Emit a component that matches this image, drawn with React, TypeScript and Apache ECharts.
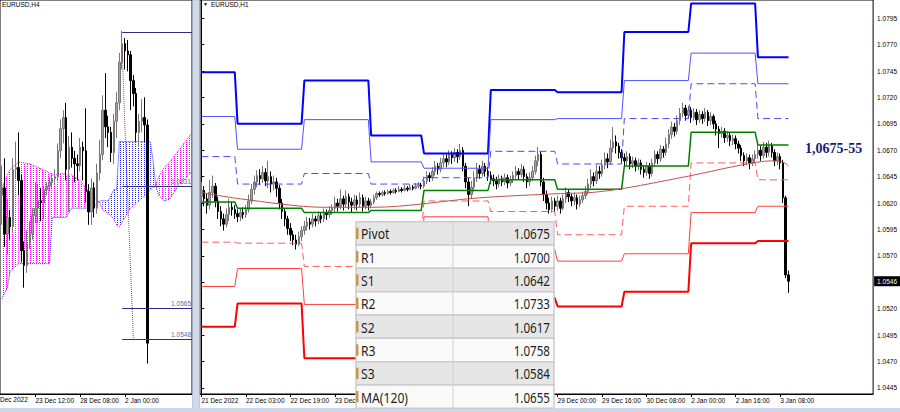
import React, { useEffect, useRef } from 'react';
import * as echarts from 'echarts';

// ---------- DATA ----------
// H1 bars (right panel), index 0 = 21 Dec 2022 11:00 : [open, close, low, high]
const h1Bars: number[][] = [
  [1.0626,1.0632,1.0620,1.0640],[1.0632,1.0624,1.0617,1.0636],[1.0624,1.0618,1.0610,1.0629],[1.0618,1.0630,1.0614,1.0642],
  [1.0630,1.0636,1.0625,1.0646],[1.0636,1.0622,1.0616,1.0639],[1.0622,1.0612,1.0605,1.0626],[1.0612,1.0605,1.0598,1.0617],
  [1.0605,1.0600,1.0594,1.0610],[1.0600,1.0609,1.0597,1.0615],[1.0609,1.0616,1.0603,1.0624],[1.0616,1.0614,1.0608,1.0621],
  [1.0614,1.0610,1.0605,1.0618],[1.0610,1.0607,1.0602,1.0614],[1.0607,1.0611,1.0603,1.0615],[1.0611,1.0609,1.0605,1.0616],
  [1.0609,1.0614,1.0606,1.0618],[1.0614,1.0622,1.0611,1.0628],[1.0622,1.0633,1.0619,1.0638],[1.0633,1.0640,1.0628,1.0646],
  [1.0640,1.0646,1.0635,1.0651],[1.0646,1.0643,1.0637,1.0652],[1.0643,1.0649,1.0639,1.0655],[1.0649,1.0641,1.0636,1.0653],
  [1.0641,1.0645,1.0634,1.0660],[1.0645,1.0638,1.0630,1.0650],[1.0638,1.0640,1.0632,1.0646],[1.0640,1.0634,1.0626,1.0644],
  [1.0634,1.0620,1.0614,1.0637],[1.0620,1.0612,1.0605,1.0624],[1.0612,1.0605,1.0598,1.0615],[1.0605,1.0596,1.0590,1.0608],
  [1.0596,1.0590,1.0584,1.0601],[1.0590,1.0585,1.0580,1.0594],[1.0585,1.0581,1.0576,1.0590],[1.0581,1.0588,1.0579,1.0593],
  [1.0588,1.0594,1.0584,1.0598],[1.0594,1.0598,1.0590,1.0603],[1.0598,1.0602,1.0594,1.0607],[1.0602,1.0600,1.0595,1.0606],
  [1.0600,1.0605,1.0597,1.0610],[1.0605,1.0603,1.0598,1.0608],[1.0603,1.0608,1.0600,1.0612],[1.0608,1.0605,1.0601,1.0611],
  [1.0605,1.0611,1.0602,1.0615],[1.0611,1.0609,1.0604,1.0614],[1.0609,1.0613,1.0606,1.0617],[1.0613,1.0615,1.0609,1.0619],
  [1.0615,1.0620,1.0611,1.0626],[1.0620,1.0617,1.0612,1.0624],[1.0617,1.0624,1.0614,1.0633],[1.0624,1.0619,1.0613,1.0627],
  [1.0619,1.0626,1.0616,1.0632],[1.0626,1.0621,1.0614,1.0629],[1.0621,1.0618,1.0611,1.0625],[1.0618,1.0623,1.0614,1.0628],
  [1.0623,1.0619,1.0613,1.0627],[1.0619,1.0625,1.0616,1.0630],[1.0625,1.0617,1.0612,1.0628],[1.0617,1.0622,1.0614,1.0626],
  [1.0622,1.0618,1.0613,1.0625],[1.0618,1.0621,1.0615,1.0624],[1.0621,1.0625,1.0619,1.0628],[1.0625,1.0629,1.0623,1.0631],
  [1.0629,1.0628,1.0626,1.0631],[1.0628,1.0630,1.0626,1.0632],[1.0630,1.0629,1.0627,1.0632],[1.0629,1.0631,1.0628,1.0633],
  [1.0631,1.0630,1.0628,1.0633],[1.0630,1.0632,1.0629,1.0634],[1.0632,1.0631,1.0629,1.0634],[1.0631,1.0633,1.0630,1.0636],
  [1.0633,1.0632,1.0630,1.0635],[1.0632,1.0634,1.0631,1.0637],[1.0634,1.0633,1.0631,1.0636],[1.0633,1.0635,1.0632,1.0638],
  [1.0635,1.0634,1.0632,1.0637],[1.0634,1.0636,1.0633,1.0639],[1.0636,1.0637,1.0634,1.0640],[1.0637,1.0636,1.0633,1.0639],
  [1.0636,1.0641,1.0634,1.0645],[1.0641,1.0646,1.0638,1.0650],[1.0646,1.0644,1.0640,1.0649],[1.0644,1.0650,1.0641,1.0654],
  [1.0650,1.0655,1.0646,1.0660],[1.0655,1.0652,1.0647,1.0658],[1.0652,1.0658,1.0649,1.0663],[1.0658,1.0662,1.0654,1.0667],
  [1.0662,1.0659,1.0654,1.0666],[1.0659,1.0666,1.0656,1.0670],[1.0666,1.0663,1.0657,1.0669],[1.0663,1.0668,1.0659,1.0672],
  [1.0668,1.0664,1.0658,1.0671],[1.0664,1.0670,1.0661,1.0676],[1.0670,1.0655,1.0650,1.0673],[1.0655,1.0640,1.0634,1.0658],
  [1.0640,1.0628,1.0617,1.0644],[1.0628,1.0635,1.0624,1.0641],[1.0635,1.0644,1.0631,1.0650],[1.0644,1.0652,1.0640,1.0658],
  [1.0652,1.0648,1.0643,1.0656],[1.0648,1.0655,1.0645,1.0660],[1.0655,1.0650,1.0645,1.0658],[1.0650,1.0646,1.0641,1.0654],
  [1.0646,1.0643,1.0638,1.0650],[1.0643,1.0641,1.0636,1.0647],[1.0641,1.0638,1.0633,1.0645],[1.0638,1.0643,1.0635,1.0647],
  [1.0643,1.0640,1.0636,1.0646],[1.0640,1.0644,1.0637,1.0648],[1.0644,1.0639,1.0634,1.0647],[1.0639,1.0642,1.0636,1.0646],
  [1.0642,1.0646,1.0639,1.0650],[1.0646,1.0650,1.0643,1.0655],[1.0650,1.0647,1.0642,1.0653],[1.0647,1.0652,1.0644,1.0657],
  [1.0652,1.0645,1.0640,1.0655],[1.0645,1.0640,1.0634,1.0648],[1.0640,1.0644,1.0636,1.0649],[1.0644,1.0650,1.0641,1.0655],
  [1.0650,1.0660,1.0647,1.0665],[1.0660,1.0666,1.0655,1.0673],[1.0666,1.0640,1.0636,1.0669],[1.0640,1.0628,1.0622,1.0644],
  [1.0628,1.0620,1.0614,1.0632],[1.0620,1.0614,1.0610,1.0625],[1.0614,1.0622,1.0611,1.0626],[1.0622,1.0617,1.0612,1.0625],
  [1.0617,1.0622,1.0613,1.0627],[1.0622,1.0615,1.0610,1.0625],[1.0615,1.0624,1.0613,1.0628],[1.0624,1.0630,1.0620,1.0635],
  [1.0630,1.0626,1.0621,1.0633],[1.0626,1.0622,1.0617,1.0629],[1.0622,1.0625,1.0618,1.0630],[1.0625,1.0619,1.0614,1.0628],
  [1.0619,1.0623,1.0616,1.0627],[1.0623,1.0627,1.0620,1.0631],[1.0627,1.0631,1.0624,1.0636],[1.0631,1.0638,1.0628,1.0643],
  [1.0638,1.0645,1.0634,1.0652],[1.0645,1.0641,1.0636,1.0649],[1.0641,1.0650,1.0638,1.0656],[1.0650,1.0648,1.0643,1.0655],
  [1.0648,1.0656,1.0645,1.0661],[1.0656,1.0662,1.0652,1.0668],[1.0662,1.0659,1.0653,1.0667],[1.0659,1.0672,1.0656,1.0680],
  [1.0672,1.0678,1.0668,1.0692],[1.0678,1.0674,1.0667,1.0684],[1.0674,1.0668,1.0662,1.0677],[1.0668,1.0663,1.0657,1.0671],
  [1.0663,1.0660,1.0654,1.0667],[1.0660,1.0664,1.0656,1.0669],[1.0664,1.0657,1.0652,1.0667],[1.0657,1.0660,1.0653,1.0664],
  [1.0660,1.0655,1.0650,1.0663],[1.0655,1.0658,1.0651,1.0662],[1.0658,1.0652,1.0647,1.0661],[1.0652,1.0649,1.0644,1.0656],
  [1.0649,1.0655,1.0646,1.0659],[1.0655,1.0648,1.0643,1.0658],[1.0648,1.0658,1.0645,1.0662],[1.0658,1.0666,1.0654,1.0670],
  [1.0666,1.0662,1.0657,1.0669],[1.0662,1.0671,1.0659,1.0675],[1.0671,1.0668,1.0663,1.0674],[1.0668,1.0676,1.0665,1.0682],
  [1.0676,1.0685,1.0672,1.0690],[1.0685,1.0692,1.0681,1.0697],[1.0692,1.0688,1.0683,1.0696],[1.0688,1.0698,1.0685,1.0703],
  [1.0698,1.0705,1.0694,1.0710],[1.0705,1.0710,1.0701,1.0715],[1.0710,1.0703,1.0698,1.0713],[1.0703,1.0708,1.0700,1.0712],
  [1.0708,1.0701,1.0696,1.0711],[1.0701,1.0706,1.0698,1.0710],[1.0706,1.0699,1.0694,1.0709],[1.0699,1.0704,1.0696,1.0708],
  [1.0704,1.0700,1.0695,1.0707],[1.0700,1.0706,1.0697,1.0710],[1.0706,1.0698,1.0693,1.0708],[1.0698,1.0702,1.0694,1.0706],
  [1.0702,1.0695,1.0690,1.0704],[1.0695,1.0690,1.0684,1.0698],[1.0690,1.0686,1.0672,1.0693],[1.0686,1.0688,1.0682,1.0692],
  [1.0688,1.0682,1.0677,1.0691],[1.0682,1.0684,1.0678,1.0688],[1.0684,1.0679,1.0674,1.0687],[1.0679,1.0681,1.0675,1.0685],
  [1.0681,1.0676,1.0671,1.0684],[1.0676,1.0672,1.0667,1.0679],[1.0672,1.0665,1.0660,1.0675],[1.0665,1.0660,1.0655,1.0668],
  [1.0660,1.0663,1.0656,1.0667],[1.0663,1.0658,1.0652,1.0666],[1.0658,1.0662,1.0655,1.0666],[1.0662,1.0666,1.0658,1.0670],
  [1.0666,1.0670,1.0662,1.0676],[1.0670,1.0665,1.0660,1.0674],[1.0665,1.0673,1.0662,1.0678],[1.0673,1.0668,1.0663,1.0677],
  [1.0668,1.0674,1.0664,1.0679],[1.0674,1.0668,1.0663,1.0677],[1.0668,1.0660,1.0655,1.0671],[1.0660,1.0664,1.0656,1.0668],
  [1.0664,1.0658,1.0652,1.0667],[1.0658,1.0625,1.0620,1.0661],[1.0625,1.0552,1.0549,1.0627],[1.0552,1.0546,1.0535,1.0556],
];

// daily pivot segments (first H1 bar index of each day)
const segStarts = [0, 13, 37, 61, 80, 104, 128, 152, 176, 200];
const lastBar = 211;
const levelR3 = [1.0744, 1.0695, 1.0736, 1.0684, 1.0667, 1.0727, 1.0725, 1.0782, 1.0809, 1.0758];
const levelR2 = [1.0702, 1.0671, 1.0699, 1.0659, 1.0653, 1.0699, 1.0700, 1.0736, 1.0762, 1.0733];
const levelR1 = [1.0664, 1.0638, 1.0648, 1.0638, 1.0644, 1.0669, 1.0657, 1.0700, 1.0733, 1.0700];
const levelP = [1.0621, 1.0615, 1.0611, 1.0613, 1.0632, 1.0642, 1.0633, 1.0655, 1.0687, 1.0675];
const levelS1 = [1.0583, 1.0582, 1.0560, 1.0589, 1.0622, 1.0612, 1.0590, 1.0617, 1.0658, 1.0642];
const levelS2 = [1.0541, 1.0558, 1.0524, 1.0568, 1.0607, 1.0576, 1.0565, 1.0572, 1.0611, 1.0617];
const levelS3 = [1.0503, 1.0525, 1.0473, 1.0543, 1.0593, 1.0530, 1.0522, 1.0536, 1.0582, 1.0584];

// MA(120) key points [bar index, value]
const maBars = [0, 14, 44, 62, 100, 129, 140, 152, 176, 194, 205, 209, 211];
const maValues = [1.0630, 1.0624, 1.0616, 1.0616, 1.0625, 1.0629, 1.0630, 1.0634, 1.0646, 1.0656, 1.0660, 1.0659, 1.0655];

const lastPrice = 1.0546;

const rightTimeTicks = [0, 16, 32, 48, 64, 80, 96, 112, 128, 144, 160, 176, 192, 208];
const rightTimeLabels = ['21 Dec 2022', '22 Dec 03:00', '22 Dec 19:00', '23 Dec 11:00', '26 Dec 08:00', '27 Dec 00:00',
  '27 Dec 16:00', '28 Dec 08:00', '29 Dec 00:00', '29 Dec 16:00', '30 Dec 08:00', '2 Jan 00:00', '2 Jan 16:00', '3 Jan 08:00'];
const priceTicks = [1.0445, 1.0470, 1.0495, 1.0520, 1.0545, 1.0570, 1.0595, 1.0620, 1.0645, 1.0670, 1.0695, 1.0720, 1.0745, 1.0770, 1.0795];
const priceTickLabels = [1.0445, 1.0470, 1.0495, 1.0520, 1.0570, 1.0595, 1.0620, 1.0645, 1.0670, 1.0695, 1.0720, 1.0745, 1.0770, 1.0795];

// left panel (H4)
const h4FirstBar = 4;
const leftTimeTicks = [16, 32, 48];
const leftTimeLabels = ['23 Dec 12:00', '28 Dec 08:00', '2 Jan 00:00'];
const kumoBars = [4, 6, 7, 10, 14, 20, 21, 22, 23, 26, 27, 29, 32, 34, 36, 37, 39, 40, 42, 43, 44, 45, 46, 50, 56, 57, 58, 59, 60, 62, 64, 67, 72];
const spanA = [1.0630, 1.0637, 1.0640, 1.0644, 1.0643, 1.0639, 1.0638, 1.0637, 1.0637, 1.0638, 1.0637, 1.0637, 1.0634, 1.0630, 1.0627, 1.0625,
  1.0622, 1.0618, 1.0616, 1.0615, 1.0613, 1.0610, 1.0609, 1.0619, 1.0627, 1.0629, 1.0630, 1.0632, 1.0636, 1.0641, 1.0644, 1.0650, 1.0660];
const spanB = [1.0570, 1.0576, 1.0585, 1.0589, 1.0589, 1.0589, 1.0589, 1.0614, 1.0614, 1.0614, 1.0614, 1.0619, 1.0619, 1.0619, 1.0619, 1.0620,
  1.0623, 1.0623, 1.0623, 1.0626, 1.0629, 1.0629, 1.0655, 1.0655, 1.0655, 1.0655, 1.0645, 1.0631, 1.0626, 1.0623, 1.0624, 1.0631, 1.0639];
const hLevelStart = 47;
const hLevels = [1.0714, 1.0631, 1.0565, 1.0548];
const hLevelLabels = ['', '1.0631', '1.0565', '1.0548'];
const redTrendBars = [47, 48, 51];
const redTrendValues = [1.0705, 1.0662, 1.0548];

const tableLabels = ['Pivot', 'R1', 'S1', 'R2', 'S2', 'R3', 'S3', 'MA(120)'];
const annotation = '1,0675-55';

// ---------- LAYOUT / STYLE ----------
const FONT = 'Liberation Sans';
const RX_MIN = -0.5, RX_MAX = 241.4;
const RY_MIN = 1.04392, RY_MAX = 1.08123;
const LX_MIN = 3.36, LX_MAX = 71.93;
const LY_MIN = 1.05185, LY_MAX = 1.07316;

function stepData(vals: number[]) {
  const out: number[][] = [];
  vals.forEach((v, k) => {
    const s = segStarts[k];
    const e = k + 1 < segStarts.length ? segStarts[k + 1] - 1 : lastBar;
    out.push([s, v], [e, v]);
  });
  return out;
}

function dotPattern(color: string) {
  const c = document.createElement('canvas');
  c.width = 3; c.height = 2;
  const ctx = c.getContext('2d')!;
  ctx.fillStyle = color;
  ctx.fillRect(0, 0, 1, 1);
  return { image: c, repeat: 'repeat', imageWidth: 3, imageHeight: 2 } as any;
}

const App = () => {
  const ref = useRef<HTMLDivElement>(null);
  useEffect(() => {
    const chart = echarts.init(ref.current!, null, { renderer: 'svg' });

    const rightCandles = h1Bars.map((b, i) => [i, b[0], b[1], b[2], b[3]]);
    const h4Bars: number[][] = [];
    for (let g = 0; g * 4 < h1Bars.length; g++) {
      const grp = h1Bars.slice(g * 4, g * 4 + 4);
      h4Bars.push([h4FirstBar + g, grp[0][0], grp[grp.length - 1][1],
        Math.min(...grp.map((b) => b[2])), Math.max(...grp.map((b) => b[3]))]);
    }
    const kumoSegments = kumoBars.slice(0, -1).map((j, k) => [j, spanA[k], spanB[k], kumoBars[k + 1], spanA[k + 1], spanB[k + 1]]);
    const upFill = dotPattern('#ff00ff');
    const downFill = dotPattern('#2323ff');

    const levelDefs = [
      { name: 'R3', vals: levelR3, color: '#0000ff', width: 2, type: 'solid' },
      { name: 'R2', vals: levelR2, color: '#5252ff', width: 1, type: 'solid' },
      { name: 'R1', vals: levelR1, color: '#4848ff', width: 1, type: [7, 4] },
      { name: 'Pivot', vals: levelP, color: '#008000', width: 1.5, type: 'solid' },
      { name: 'S1', vals: levelS1, color: '#ff5c5c', width: 1, type: [7, 4] },
      { name: 'S2', vals: levelS2, color: '#ff4040', width: 1, type: 'solid' },
      { name: 'S3', vals: levelS3, color: '#ff0000', width: 2, type: 'solid' },
    ];
    const tableValues = [levelP[9], levelR1[9], levelS1[9], levelR2[9], levelS2[9], levelR3[9], levelS3[9], maValues[maValues.length - 1]];

    const candleStyle = { color: '#a4a4a4', color0: '#000000', borderColor: '#777777', borderColor0: '#000000', borderWidth: 1 };

    const series: any[] = [
      {
        type: 'candlestick', name: 'EURUSD H1', xAxisIndex: 0, yAxisIndex: 0, data: rightCandles,
        encode: { x: 0, y: [1, 2, 3, 4] }, barWidth: 2, itemStyle: candleStyle, z: 2,
      },
      ...levelDefs.map((d) => ({
        type: 'line', name: d.name, xAxisIndex: 0, yAxisIndex: 0, data: stepData(d.vals), showSymbol: false,
        symbol: 'none', lineStyle: { color: d.color, width: d.width, type: d.type }, z: 3,
      })),
      {
        type: 'line', name: 'MA(120)', xAxisIndex: 0, yAxisIndex: 0, data: maBars.map((b, k) => [b, maValues[k]]),
        symbol: 'none', smooth: 0.3, lineStyle: { color: '#bf5450', width: 1 }, z: 3,
        markLine: {
          silent: true, symbol: ['none', 'none'], precision: 4, lineStyle: { color: 'rgba(0,0,0,0)', width: 0 },
          label: { show: true, position: 'end', distance: 1, formatter: lastPrice.toFixed(4), backgroundColor: '#000',
            color: '#fff', fontSize: 6.5, fontFamily: FONT, padding: [2, 3, 1, 3] },
          data: [{ yAxis: lastPrice }],
        },
      },
      // left panel: Ichimoku cloud
      {
        type: 'custom', name: 'Kumo', xAxisIndex: 1, yAxisIndex: 1, data: kumoSegments, clip: true, z: 1,
        encode: { x: [0, 3], y: [1, 2, 4, 5] },
        renderItem: (params: any, api: any) => {
          const j0 = api.value(0), a0 = api.value(1), b0 = api.value(2);
          const j1 = api.value(3), a1 = api.value(4), b1 = api.value(5);
          const d0 = a0 - b0, d1 = a1 - b1;
          const P = (j: number, v: number) => api.coord([j, v]);
          const children: any[] = [];
          if (d0 * d1 >= 0) {
            children.push({ type: 'polygon', shape: { points: [P(j0, a0), P(j1, a1), P(j1, b1), P(j0, b0)] },
              style: { fill: d0 + d1 >= 0 ? upFill : downFill } });
          } else {
            const t = d0 / (d0 - d1);
            const jx = j0 + t * (j1 - j0), vx = a0 + t * (a1 - a0);
            children.push({ type: 'polygon', shape: { points: [P(j0, a0), P(jx, vx), P(j0, b0)] },
              style: { fill: d0 >= 0 ? upFill : downFill } });
            children.push({ type: 'polygon', shape: { points: [P(jx, vx), P(j1, a1), P(j1, b1)] },
              style: { fill: d1 >= 0 ? upFill : downFill } });
          }
          return { type: 'group', children };
        },
      },
      {
        type: 'line', name: 'Senkou A', xAxisIndex: 1, yAxisIndex: 1, data: kumoBars.map((j, k) => [j, spanA[k]]), symbol: 'none',
        lineStyle: { color: '#ff00ff', width: 1, type: 'dotted' }, z: 1,
      },
      {
        type: 'line', name: 'Senkou B', xAxisIndex: 1, yAxisIndex: 1, data: kumoBars.map((j, k) => [j, spanB[k]]), symbol: 'none',
        lineStyle: { color: '#2323ff', width: 1, type: 'dotted' }, z: 1,
      },
      {
        type: 'candlestick', name: 'EURUSD H4', xAxisIndex: 1, yAxisIndex: 1, data: h4Bars,
        encode: { x: 0, y: [1, 2, 3, 4] }, barWidth: 2, itemStyle: candleStyle, z: 2,
        markLine: {
          silent: true, symbol: ['none', 'none'], precision: 4,
          lineStyle: { color: '#2c2c88', width: 1, type: 'solid' },
          data: hLevels.map((v, k) => [
            {
              coord: [hLevelStart, v],
              label: { show: hLevelLabels[k] !== '', position: 'insideEndTop', distance: 1, formatter: hLevelLabels[k],
                fontSize: 6.5, fontFamily: FONT, color: '#66669e' },
            },
            { coord: [LX_MAX, v] },
          ]),
        },
      },
      {
        type: 'line', name: 'trend', xAxisIndex: 1, yAxisIndex: 1, data: redTrendBars.map((b, k) => [b, redTrendValues[k]]),
        symbol: 'none', lineStyle: { color: '#ff2020', width: 1, type: 'dotted' }, z: 3,
      },
    ];

    const axisText = { fontSize: 6.5, fontFamily: FONT, color: '#000' };
    const tableTop = 221.7, rowH = 23.33, tableLeft = 356, tableRight = 554, colX = 453;
    const graphics: any[] = [
      { type: 'rect', shape: { x: 192.5, y: 0, width: 7, height: 412 }, style: { fill: '#cfdaea', stroke: '#9aa6b8', lineWidth: 0.5 }, z: 90 },
      { type: 'rect', shape: { x: 0, y: 408, width: 900, height: 4 }, style: { fill: '#cbd8eb' }, z: 90 },
      { type: 'text', x: 2, y: 4, style: { text: 'EURUSD,H4', ...axisText, fill: '#000', verticalAlign: 'middle' }, z: 95 },
      { type: 'text', x: 203, y: 4, style: { text: '▼', fontSize: 5, fill: '#000', verticalAlign: 'middle' }, z: 95 },
      { type: 'text', x: 211, y: 4, style: { text: 'EURUSD,H1', ...axisText, fill: '#000', verticalAlign: 'middle' }, z: 95 },
      { type: 'text', x: 0, y: 399, style: { text: 'Dec 2022', ...axisText, fill: '#000', verticalAlign: 'middle' }, z: 95 },
      { type: 'text', x: 805, y: 148, style: { text: annotation, fontSize: 14, fontWeight: 'bold', fontFamily: 'Liberation Serif',
        fill: '#1c1c6c', verticalAlign: 'middle' }, z: 95 },
    ];
    tableLabels.forEach((lab, r) => {
      const y0 = tableTop + r * rowH;
      graphics.push({ type: 'rect', shape: { x: tableLeft, y: y0, width: tableRight - tableLeft, height: rowH },
        style: { fill: r % 2 === 0 ? '#e6e6e6' : '#fafafa', stroke: '#cccccc', lineWidth: 1.5 }, z: 100 });
      graphics.push({ type: 'rect', shape: { x: tableLeft, y: y0 + 6, width: 2.5, height: rowH - 12 },
        style: { fill: '#c49a52' }, z: 101 });
      graphics.push({ type: 'text', x: tableLeft + 5, y: y0 + rowH / 2 + 0.5, scaleX: 0.84,
        style: { text: lab, fontSize: 14.5, fontFamily: 'Noto Sans', fill: '#1e1e1e', verticalAlign: 'middle' }, z: 101 });
      graphics.push({ type: 'text', x: tableRight - 4, y: y0 + rowH / 2 + 0.5, scaleX: 0.8,
        style: { text: tableValues[r].toFixed(4), fontSize: 14.5, fontFamily: 'Noto Sans', fill: '#1e1e1e', align: 'right',
          verticalAlign: 'middle' }, z: 101 });
    });
    graphics.push({ type: 'line', shape: { x1: colX, y1: tableTop, x2: colX, y2: tableTop + 8 * rowH },
      style: { stroke: '#d0d0d0', lineWidth: 1 }, z: 101 });

    const option: any = {
      animation: false,
      backgroundColor: '#ffffff',
      grid: [
        { left: 200, top: 0, width: 675, height: 394, show: true, borderColor: '#000', borderWidth: 1, backgroundColor: '#fff' },
        { left: 0, top: 0, width: 192, height: 394, show: true, borderColor: '#000', borderWidth: 1, backgroundColor: '#fff' },
      ],
      xAxis: [
        {
          gridIndex: 0, type: 'value', min: RX_MIN, max: RX_MAX,
          axisLine: { show: true, lineStyle: { color: '#000' } },
          axisTick: { show: true, length: 3, customValues: rightTimeTicks, lineStyle: { color: '#000' } },
          axisLabel: { ...axisText, customValues: rightTimeTicks, align: 'left', margin: 3,
            formatter: (v: number) => rightTimeLabels[rightTimeTicks.indexOf(Math.round(v))] || '' },
          splitLine: { show: false },
        },
        {
          gridIndex: 1, type: 'value', min: LX_MIN, max: LX_MAX,
          axisLine: { show: true, lineStyle: { color: '#000' } },
          axisTick: { show: true, length: 3, customValues: leftTimeTicks, lineStyle: { color: '#000' } },
          axisLabel: { ...axisText, customValues: leftTimeTicks, align: 'left', margin: 3,
            formatter: (v: number) => leftTimeLabels[leftTimeTicks.indexOf(Math.round(v))] || '' },
          splitLine: { show: false },
        },
      ],
      yAxis: [
        {
          gridIndex: 0, type: 'value', position: 'right', min: RY_MIN, max: RY_MAX,
          axisLine: { show: true, lineStyle: { color: '#000' } },
          axisTick: { show: true, length: 3, customValues: priceTicks, lineStyle: { color: '#000' } },
          axisLabel: { ...axisText, customValues: priceTickLabels, margin: 4, formatter: (v: number) => v.toFixed(4) },
          splitLine: { show: false },
        },
        { gridIndex: 1, type: 'value', min: LY_MIN, max: LY_MAX, show: false, splitLine: { show: false } },
      ],
      series,
      graphic: { elements: graphics },
    };
    chart.setOption(option);
    return () => chart.dispose();
  }, []);
  return <div ref={ref} style={{ position: 'absolute', left: 0, top: 0, width: 900, height: 412, background: '#fff' }} />;
};

export default App;
